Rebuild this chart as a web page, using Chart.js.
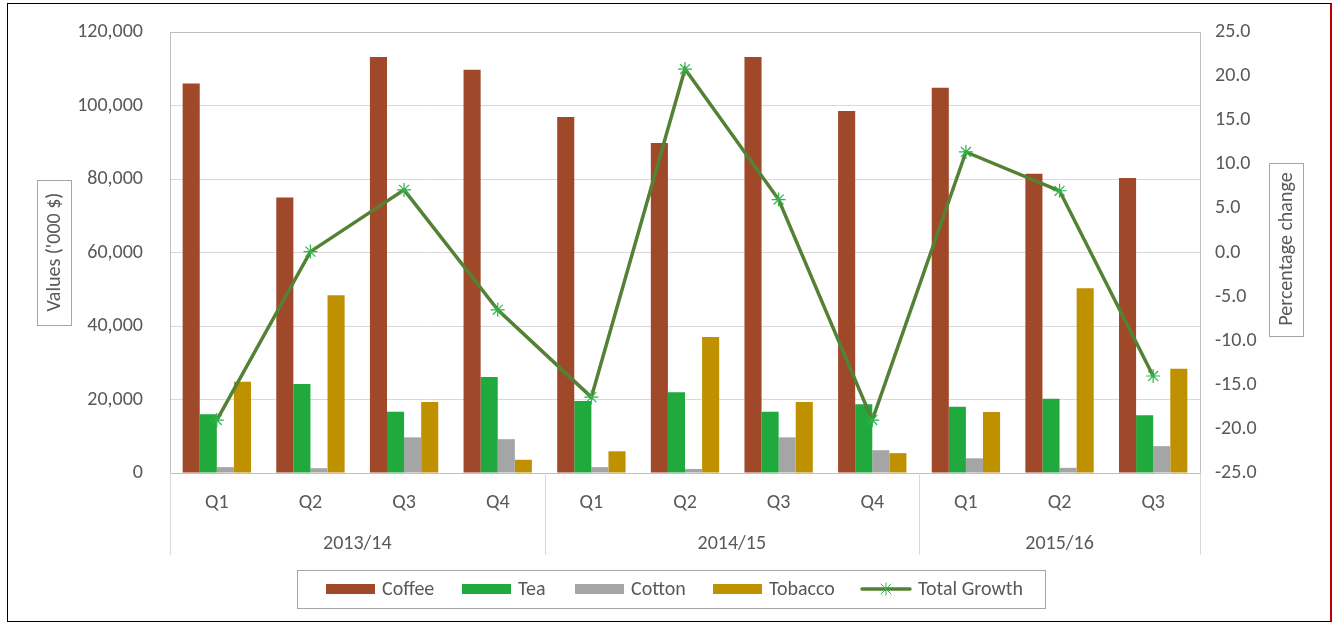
<!DOCTYPE html>
<html>
<head>
<meta charset="utf-8">
<script src="https://cdn.jsdelivr.net/npm/chart.js@4.4.1/dist/chart.umd.min.js"></script>
<style>
    html, body { margin: 0; padding: 0; background: #fff; }
    #wrap { position: relative; width: 1336px; height: 626px; }
    #frame {
        position: absolute; left: 7px; top: 3px; width: 1322px; height: 617px;
        border: 1px solid #000; border-right: 2px solid #c00000;
        pointer-events: none;
    }
</style>
</head>
<body>
<div id="wrap">
    <canvas id="trade-chart" width="1336" height="626"></canvas>
    <div id="frame"></div>
</div>
<script>
//DATA
var quarterLabels = ['Q1', 'Q2', 'Q3', 'Q4', 'Q1', 'Q2', 'Q3', 'Q4', 'Q1', 'Q2', 'Q3']
var yearLabels = ['2013/14', '2014/15', '2015/16']
var yearSpans = [4, 4, 3]

var coffeeValues = [106000, 75000, 113200, 109700, 96900, 89800, 113200, 98500, 104800, 81400, 80300]
var teaValues = [16000, 24200, 16700, 26100, 19600, 22000, 16700, 18700, 18000, 20200, 15700]
var cottonValues = [1600, 1300, 9700, 9200, 1600, 1100, 9700, 6200, 4000, 1400, 7300]
var tobaccoValues = [24800, 48400, 19300, 3600, 5900, 37000, 19300, 5400, 16600, 50300, 28400]
var growthValues = [-19.0, 0.1, 7.1, -6.5, -16.4, 20.8, 6.0, -19.0, 11.4, 7.0, -14.0]

var leftTicks = [0, 120000, 20000]   // min, max, step
var rightTicks = [-25, 25, 5]

var colorsBars = ['#a0492a', '#20a93c', '#a5a5a5', '#bf9000']
var lineColor = '#548235'
var markerColor = '#2fb34a'

var fontFamily = "Carlito, 'Open Sans', sans-serif"
var fontSize = 20
var textColor = '#595959'
var gridColor = '#d9d9d9'

//PLOT AREA GEOMETRY
var plotLeft = 170, plotRight = 1200, plotTop = 32, plotBottom = 473

//////////////////////////////////////////////////////////////////////////////
//-------------------- custom drawing: frame, groups, titles, legend ---------
const excelBits = {
    id: 'excelBits',
    afterDraw(chart) {
        const ctx = chart.ctx
        const xs = chart.scales.x
        const area = chart.chartArea
        ctx.save()

        //plot area box
        ctx.strokeStyle = '#bfbfbf'
        ctx.lineWidth = 1
        ctx.strokeRect(area.left + 0.5, area.top + 0.5, area.right - area.left, area.bottom - area.top)

        //year group separators + labels
        var half = (xs.getPixelForValue(1) - xs.getPixelForValue(0)) / 2
        var start = 0
        ctx.strokeStyle = gridColor
        ctx.fillStyle = textColor
        ctx.font = fontSize + 'px ' + fontFamily
        ctx.textAlign = 'center'
        ctx.textBaseline = 'middle'
        var drawSep = function (x) {
            ctx.beginPath()
            ctx.moveTo(Math.round(x) + 0.5, area.bottom)
            ctx.lineTo(Math.round(x) + 0.5, area.bottom + 82)
            ctx.stroke()
        }
        drawSep(xs.getPixelForValue(0) - half)
        yearLabels.forEach((label, i) => {
            var end = start + yearSpans[i] - 1
            var cx = (xs.getPixelForValue(start) + xs.getPixelForValue(end)) / 2
            ctx.fillText(label, cx, area.bottom + 71)
            drawSep(xs.getPixelForValue(end) + half)
            start = end + 1
        })

        //axis titles in boxes
        var drawTitle = function (text, cx, cy, w, h) {
            ctx.strokeStyle = '#a6a6a6'
            ctx.strokeRect(Math.round(cx - w / 2) + 0.5, Math.round(cy - h / 2) + 0.5, w, h)
            ctx.save()
            ctx.translate(cx, cy)
            ctx.rotate(-Math.PI / 2)
            ctx.fillStyle = textColor
            ctx.fillText(text, 0, 1)
            ctx.restore()
        }
        drawTitle("Values ('000 $)", 54, 252, 34, 145)
        drawTitle('Percentage change', 1286, 249, 34, 173)

        //legend
        ctx.strokeStyle = '#a6a6a6'
        ctx.strokeRect(297.5, 570.5, 748, 38)
        var legendX = [326, 462, 575, 713, 862]
        var legendY = 589
        ctx.textAlign = 'left'
        chart.data.datasets.forEach((ds, i) => {
            var x = legendX[i]
            if (ds.type === 'line') {
                ctx.strokeStyle = lineColor
                ctx.lineWidth = 3.5
                ctx.lineCap = 'round'
                ctx.beginPath()
                ctx.moveTo(x, legendY)
                ctx.lineTo(x + 48, legendY)
                ctx.stroke()
                ctx.lineWidth = 1
                ctx.strokeStyle = markerColor
                ctx.beginPath()
                ctx.moveTo(x + 24, legendY - 6); ctx.lineTo(x + 24, legendY + 6)
                ctx.moveTo(x + 19, legendY - 5); ctx.lineTo(x + 29, legendY + 5)
                ctx.moveTo(x + 29, legendY - 5); ctx.lineTo(x + 19, legendY + 5)
                ctx.stroke()
            } else {
                ctx.fillStyle = ds.backgroundColor
                ctx.fillRect(x, legendY - 5, 49, 10)
            }
            ctx.fillStyle = textColor
            ctx.fillText(ds.label, x + 56, legendY + 1)
        })
        ctx.restore()
    }
}

var ctxTrade = document.getElementById('trade-chart').getContext('2d')

let tradeChart = new Chart(ctxTrade, {
    data: {
        labels: quarterLabels,
        datasets: [
            { type: 'bar', label: 'Coffee', data: coffeeValues, backgroundColor: colorsBars[0], yAxisID: 'y', order: 1 },
            { type: 'bar', label: 'Tea', data: teaValues, backgroundColor: colorsBars[1], yAxisID: 'y', order: 1 },
            { type: 'bar', label: 'Cotton', data: cottonValues, backgroundColor: colorsBars[2], yAxisID: 'y', order: 1 },
            { type: 'bar', label: 'Tobacco', data: tobaccoValues, backgroundColor: colorsBars[3], yAxisID: 'y', order: 1 },
            {
                type: 'line', label: 'Total Growth', data: growthValues, yAxisID: 'y1', order: 0,
                borderColor: lineColor, borderWidth: 3.5, tension: 0,
                pointStyle: 'star', pointRadius: 7, pointBorderColor: markerColor,
                pointBorderWidth: 1.2, pointBackgroundColor: markerColor
            }
        ]
    },
    plugins: [excelBits],
    options: {
        responsive: false,
        animation: false,
        devicePixelRatio: 1,
        layout: { padding: { top: plotTop, bottom: 0, left: 0, right: 0 } },
        datasets: {
            bar: { categoryPercentage: 0.73, barPercentage: 1 }
        },
        plugins: {
            legend: { display: false },
            tooltip: { enabled: false }
        },
        scales: {
            x: {
                grid: { display: false },
                border: { display: false },
                ticks: { color: textColor, font: { size: fontSize, family: fontFamily }, padding: 10 },
                afterFit: function (scale) {
                    scale.height = 626 - plotBottom
                    scale.paddingLeft = 0
                    scale.paddingRight = 0
                }
            },
            y: {
                position: 'left',
                min: leftTicks[0], max: leftTicks[1],
                ticks: {
                    stepSize: leftTicks[2], color: textColor, padding: 27,
                    font: { size: fontSize, family: fontFamily },
                    callback: v => v.toLocaleString('en-US')
                },
                grid: { color: gridColor, drawTicks: false },
                border: { display: false },
                afterFit: function (scale) {
                    scale.width = plotLeft
                    scale.paddingTop = 0
                    scale.paddingBottom = 0
                }
            },
            y1: {
                position: 'right',
                min: rightTicks[0], max: rightTicks[1],
                ticks: {
                    stepSize: rightTicks[2], color: textColor, padding: 15,
                    font: { size: fontSize, family: fontFamily },
                    callback: v => v.toFixed(1)
                },
                grid: { drawOnChartArea: false, drawTicks: false },
                border: { display: false },
                afterFit: function (scale) {
                    scale.width = 1336 - plotRight
                    scale.paddingTop = 0
                    scale.paddingBottom = 0
                }
            }
        }
    }
})
</script>
</body>
</html>
